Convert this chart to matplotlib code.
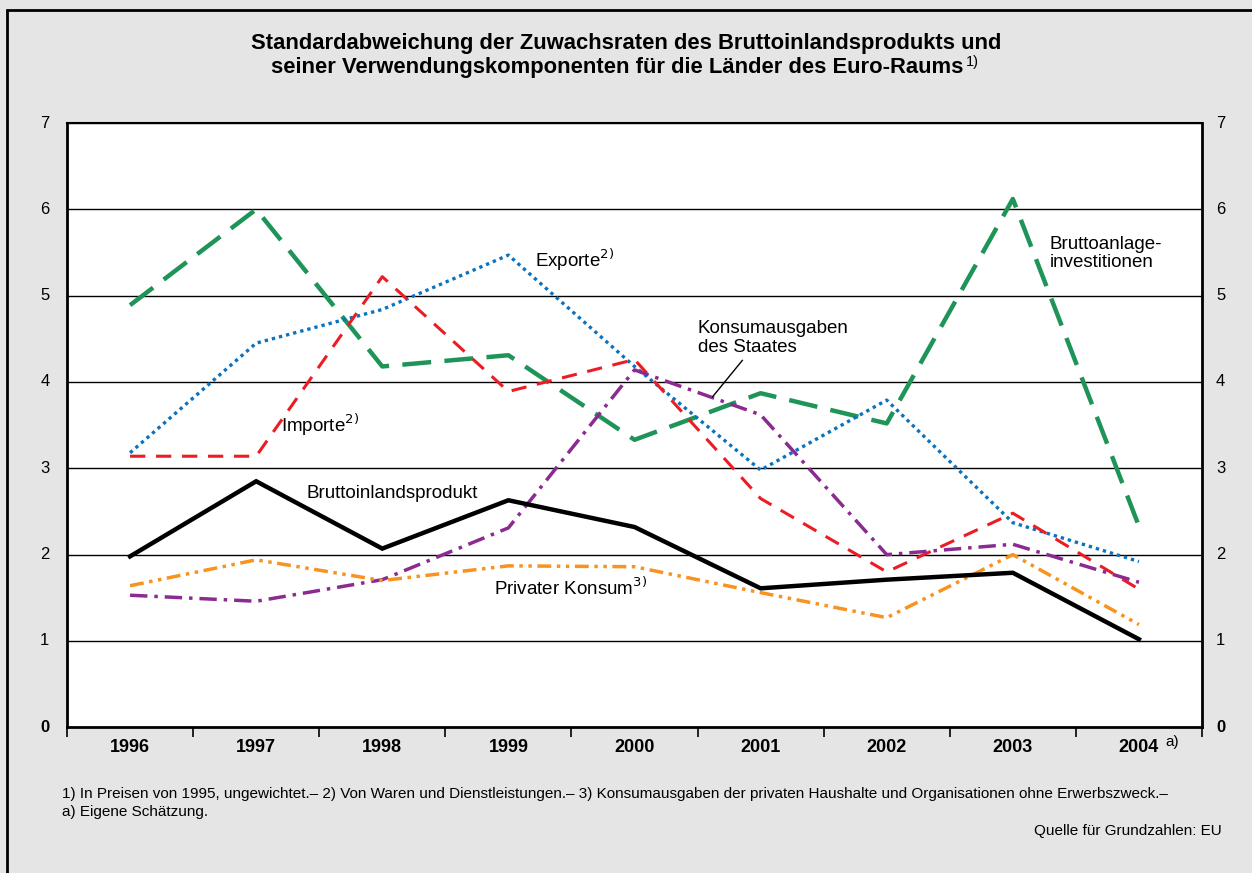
import matplotlib.pyplot as plt
from matplotlib.patches import Rectangle

plt.rcParams['font.family'] = ['Liberation Sans', 'DejaVu Sans']

years = ['1996', '1997', '1998', '1999', '2000', '2001', '2002', '2003', '2004']
bip = [1.98, 2.85, 2.07, 2.63, 2.32, 1.61, 1.71, 1.79, 1.02]
privater_konsum = [1.64, 1.94, 1.70, 1.87, 1.86, 1.56, 1.27, 2.00, 1.19]
staatskonsum = [1.53, 1.46, 1.71, 2.31, 4.14, 3.62, 2.00, 2.12, 1.68]
importe = [3.14, 3.14, 5.22, 3.89, 4.26, 2.65, 1.80, 2.48, 1.60]
exporte = [3.18, 4.45, 4.84, 5.47, 4.18, 2.98, 3.79, 2.37, 1.92]
investitionen = [4.89, 6.00, 4.18, 4.31, 3.33, 3.87, 3.52, 6.12, 2.33]
y_ticks = [0, 1, 2, 3, 4, 5, 6, 7]

bg = '#e5e5e5'
fig = plt.figure(figsize=(12.52, 8.73), dpi=100, facecolor=bg)

# outer frame
fig.patches.append(Rectangle((7 / 1252, -0.05), 1.1, (873 - 10) / 873 + 0.05,
                             transform=fig.transFigure, fill=False,
                             edgecolor='black', linewidth=2))

ax = fig.add_axes([67 / 1252, (873 - 727.3) / 873, (1202 - 67) / 1252, (727.3 - 123) / 873])
ax.set_facecolor('white')

x = list(range(len(years)))

ax.plot(x, investitionen, color='#1e9458', lw=3.2, dashes=(6.5, 3), zorder=3)
ax.plot(x, exporte, color='#0a72bf', lw=2.4, dashes=(1, 1.2), zorder=4)
ax.plot(x, importe, color='#ec1c24', lw=2.2, dashes=(5, 3.5), zorder=4)
ax.plot(x, staatskonsum, color='#8b2a90', lw=2.5, dashes=(5, 2, 1, 2), zorder=4)
ax.plot(x, privater_konsum, color='#f7931e', lw=2.5, dashes=(4, 1.6, 1, 1.6, 1, 1.6), zorder=4)
ax.plot(x, bip, color='black', lw=3.2, solid_joinstyle='miter', zorder=5)

ax.set_xlim(-0.5, len(years) - 0.5)
ax.set_ylim(0, 7)

for yv in y_ticks[1:]:
    ax.axhline(yv, color='black', lw=1.0, zorder=1)

ax.set_yticks(y_ticks)
ax.set_yticklabels([])
ax.tick_params(axis='y', length=0)
for yv in y_ticks:
    w = 'bold' if yv == 0 else 'normal'
    ax.text(-0.0195, yv, str(yv), transform=ax.get_yaxis_transform(), ha='center', va='center',
            fontsize=12, fontweight=w)
    ax.text(1.0165, yv, str(yv), transform=ax.get_yaxis_transform(), ha='center', va='center',
            fontsize=12, fontweight=w)

ax.set_xticks([i + 0.5 for i in range(len(years) - 1)] + [-0.5, len(years) - 0.5])
ax.set_xticklabels([])
ax.tick_params(axis='x', direction='out', length=7, width=1.2, color='black')
for i, yr in enumerate(years):
    ax.text(i, -0.23, yr, ha='center', va='center', fontsize=13, fontweight='bold')
ax.text(len(years) - 1 + 0.21, -0.17, 'a)', ha='left', va='center', fontsize=11)

for side in ['left', 'right', 'bottom']:
    ax.spines[side].set_linewidth(2)
ax.spines['top'].set_linewidth(1.5)

# series labels
lab = dict(fontsize=13.5, color='black', zorder=6, va='center', ha='left')
ax.text(3.21, 5.41, r'Exporte$^{2)}$', **lab)
ax.text(7.29, 5.49, 'Bruttoanlage-\ninvestitionen', linespacing=1.1, **lab)
ax.text(4.50, 4.51, 'Konsumausgaben\ndes Staates', linespacing=1.1, **lab)
ax.plot([4.855, 4.62], [4.25, 3.83], color='black', lw=1, zorder=6)
ax.text(1.195, 3.50, r'Importe$^{2)}$', **lab)
ax.text(1.40, 2.71, 'Bruttoinlandsprodukt', **lab)
ax.text(2.886, 1.61, r'Privater Konsum$^{3)}$', **lab)

fig.text(0.5, (873 - 44) / 873,
         'Standardabweichung der Zuwachsraten des Bruttoinlandsprodukts und',
         ha='center', va='center', fontsize=15.8, fontweight='bold')
fig.text(617 / 1252, (873 - 67) / 873,
         'seiner Verwendungskomponenten für die Länder des Euro-Raums',
         ha='center', va='center', fontsize=15.8, fontweight='bold')
fig.text(966 / 1252, (873 - 62) / 873, '1)', ha='left', va='center', fontsize=10.5)

fig.text(62 / 1252, (873 - 794) / 873,
         '1) In Preisen von 1995, ungewichtet.– 2) Von Waren und Dienstleistungen.– '
         '3) Konsumausgaben der privaten Haushalte und Organisationen ohne Erwerbszweck.–',
         ha='left', va='center', fontsize=11)
fig.text(62 / 1252, (873 - 812) / 873, 'a) Eigene Schätzung.', ha='left', va='center', fontsize=11)
fig.text(1222 / 1252, (873 - 831) / 873, 'Quelle für Grundzahlen: EU', ha='right', va='center', fontsize=11)

fig.savefig('out.png', dpi=100, facecolor=bg)
